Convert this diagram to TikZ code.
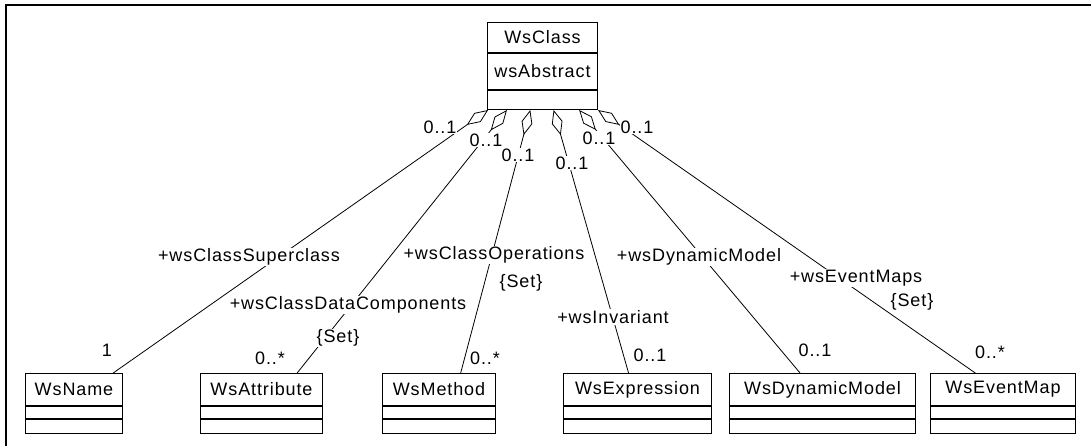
\documentclass[tikz,border=0pt]{standalone}
\usepackage{fontspec}
\setmainfont{Liberation Sans}[LetterSpace=5]
\usetikzlibrary{arrows.meta,calc}
\tikzstyle{cls} = [draw=black, line width=1pt, anchor=north west, inner sep=0pt, font=\fontsize{18}{20}\selectfont]
\tikzstyle{lbl} = [fill=white, inner sep=1pt, font=\fontsize{18}{20}\selectfont]
\tikzstyle{agg} = [{Diamond[open,length=26pt,width=11pt]}-, line width=.8pt]
\newcommand{\wsbox}[4]{
	\node [cls, minimum width=#3, minimum height=32] (#1) at (#2,373) {#4};
	\node [cls, minimum width=#3, minimum height=12] (#1a) at (#1.south west) {};
	\node [cls, minimum width=#3, minimum height=14] (#1b) at (#1a.south west) {};
}

\begin{document}
\begin{tikzpicture}[x=1pt, y=-1pt]
	\useasboundingbox (0,0) rectangle (1091,446);
	\draw[line width=2pt] (6,446) -- (6,5) -- (1091,5);
	\node [cls, minimum width=110, minimum height=30] (wsclass) at (487,22) {WsClass};
	\node [cls, minimum width=110, minimum height=36] (wsabs) at (wsclass.south west) {wsAbstract};
	\node [cls, minimum width=110, minimum height=19] (wsops) at (wsabs.south west) {};
	\wsbox{wsname}{25}{97}{WsName}
	\wsbox{wsattr}{200}{122}{WsAttribute}
	\wsbox{wsmeth}{382}{113}{WsMethod}
	\wsbox{wsexpr}{563}{148}{WsExpression}
	\wsbox{wsdyn}{729}{186}{WsDynamicModel}
	\wsbox{wsevt}{930}{145}{WsEventMap}
	\draw[agg] ($(wsops.south west)!.01!(wsops.south east)$) -- ($(wsname.north west)!.9!(wsname.north east)$);
	\draw[agg] ($(wsops.south west)!.18!(wsops.south east)$) -- ($(wsattr.north west)!.79!(wsattr.north east)$);
	\draw[agg] ($(wsops.south west)!.39!(wsops.south east)$) -- ($(wsmeth.north west)!.69!(wsmeth.north east)$);
	\draw[agg] ($(wsops.south west)!.6!(wsops.south east)$) -- ($(wsexpr.north west)!.44!(wsexpr.north east)$);
	\draw[agg] ($(wsops.south west)!.83!(wsops.south east)$) -- ($(wsdyn.north west)!.38!(wsdyn.north east)$);
	\draw[agg] ($(wsops.south west)!1!(wsops.south east)$) -- ($(wsevt.north west)!.31!(wsevt.north east)$);
	\node [lbl] (m1) at (440,127) {0..1};
	\node [lbl] (m2) at (486,140) {0..1};
	\node [lbl] (m3) at (518,155) {0..1};
	\node [lbl] (m4) at (572,163) {0..1};
	\node [lbl] (m5) at (599,138) {0..1};
	\node [lbl] (m6) at (637,127) {0..1};
	\node [lbl] (r1) at (249,257) {+wsClassSuperclass};
	\node [lbl] (r2) at (348,305) {+wsClassDataComponents};
	\node [lbl] (s2) at (338,338) {\{Set\}};
	\node [lbl] (r3) at (494,255) {+wsClassOperations};
	\node [lbl] (s3) at (521,283) {\{Set\}};
	\node [lbl] (r4) at (613,317) {+wsInvariant};
	\node [lbl] (r5) at (699,257) {+wsDynamicModel};
	\node [lbl] (r6) at (856,278) {+wsEventMaps};
	\node [lbl] (s6) at (912,302) {\{Set\}};
	\node [lbl] (n1) at (107,350) {1};
	\node [lbl] (n2) at (270,358) {0..*};
	\node [lbl] (n3) at (485,358) {0..*};
	\node [lbl] (n4) at (650,355) {0..1};
	\node [lbl] (n5) at (815,350) {0..1};
	\node [lbl] (n6) at (990,352) {0..*};
\end{tikzpicture}
\end{document}
